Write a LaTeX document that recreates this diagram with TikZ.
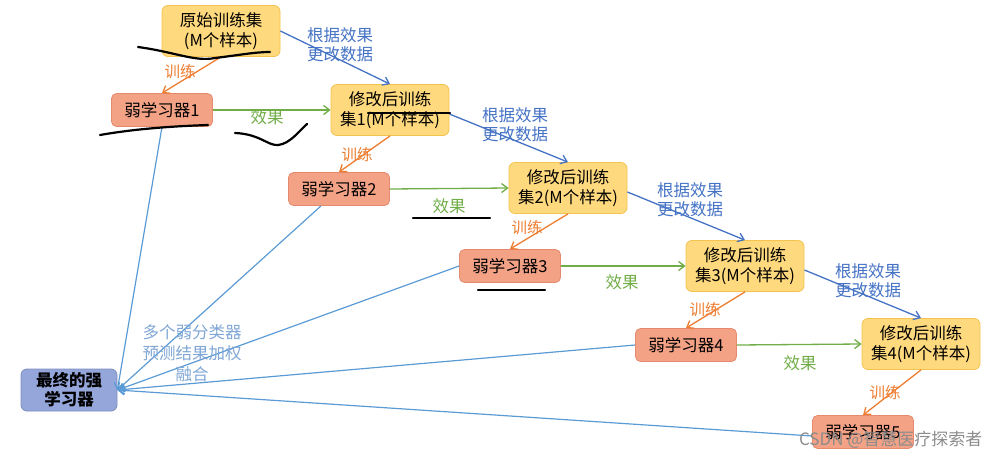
\documentclass[tikz,border=0pt]{standalone}
\usepackage{fontspec}
\setmainfont{Noto Sans CJK SC}
\usetikzlibrary{arrows.meta}
\begin{document}
\definecolor{setfill}{HTML}{FFD97E}
\definecolor{setdraw}{HTML}{F4C24F}
\definecolor{lrnfill}{HTML}{F3A286}
\definecolor{lrndraw}{HTML}{E58A6E}
\definecolor{finfill}{HTML}{95A6DB}
\definecolor{findraw}{HTML}{7E8FBF}
\definecolor{corange}{HTML}{ED7D31}
\definecolor{cgreen}{HTML}{70AD47}
\definecolor{cblue}{HTML}{4472C4}
\definecolor{clblue}{HTML}{5B9BD5}
\definecolor{ctxt}{HTML}{7FA6D5}
\tikzset{
  setbox/.style={draw=setdraw, fill=setfill, rounded corners=6pt, minimum width=118pt, minimum height=51pt, align=center, font=\fontsize{16.5}{20}\selectfont, inner sep=1pt, line width=0.8pt},
  lrnbox/.style={draw=lrndraw, fill=lrnfill, rounded corners=5pt, minimum width=101pt, minimum height=33pt, align=center, font=\fontsize{16.5}{20}\selectfont, inner sep=1pt, line width=0.8pt},
  finbox/.style={draw=findraw, fill=finfill, rounded corners=6pt, minimum width=96pt, minimum height=42pt, align=center, font=\bfseries\fontsize{16.5}{19}\selectfont, inner sep=1pt, line width=0.8pt},
  trainarr/.style={draw=corange, line width=1.3pt, -{Straight Barb[length=6pt,width=9pt]}},
  effarr/.style={draw=cgreen, line width=1.3pt, -{Straight Barb[length=6pt,width=9pt]}},
  modarr/.style={draw=cblue, line width=1.3pt, -{Straight Barb[length=6pt,width=9pt]}},
  finarr/.style={draw=clblue, line width=1.2pt, -{Straight Barb[length=6pt,width=9pt]}},
  trainlbl/.style={text=corange, font=\fontsize{15.5}{18}\selectfont},
  efflbl/.style={text=cgreen, font=\fontsize{16.5}{19}\selectfont},
  modlbl/.style={text=cblue, align=center, font=\fontsize{16.5}{19}\selectfont},
  fuselbl/.style={text=ctxt, align=center, font=\fontsize{16.5}{21}\selectfont},
  scribble/.style={draw=black, line width=2.2pt, line cap=round, line join=round},
}
\begin{tikzpicture}[x=1pt,y=-1pt]
\useasboundingbox (0,0) rectangle (999,458);
% nodes
\node[setbox] (s0) at (221,31) {原始训练集\\(M个样本)};
\node[setbox] (s1) at (390,110) {修改后训练\\集1(M个样本)};
\node[setbox] (s2) at (568,188) {修改后训练\\集2(M个样本)};
\node[setbox] (s3) at (745,266) {修改后训练\\集3(M个样本)};
\node[setbox] (s4) at (921,344) {修改后训练\\集4(M个样本)};
\node[lrnbox] (l1) at (162,110) {弱学习器1};
\node[lrnbox] (l2) at (339,189) {弱学习器2};
\node[lrnbox] (l3) at (510,266) {弱学习器3};
\node[lrnbox] (l4) at (686,345) {弱学习器4};
\node[lrnbox] (l5) at (863,432) {弱学习器5};
\node[finbox] (f) at (69,390) {最终的强\\学习器};
% training arrows
\draw[trainarr] (s0.south) -- (l1.north);
\draw[trainarr] (s1.south) -- (l2.north);
\draw[trainarr] (s2.south) -- (l3.north);
\draw[trainarr] (s3.south) -- (l4.north);
\draw[trainarr] (s4.south) -- (l5.north);
% effect arrows
\draw[effarr] (l1.east) -- (s1.west);
\draw[effarr] (l2.east) -- (s2.west);
\draw[effarr] (l3.east) -- (s3.west);
\draw[effarr] (l4.east) -- (s4.west);
% modify arrows
\draw[modarr] (s0.east) -- (s1.north);
\draw[modarr] ([yshift=-4pt]s1.east) -- (s2.north);
\draw[modarr] ([yshift=-4pt]s2.east) -- (s3.north);
\draw[modarr] ([yshift=-4pt]s3.east) -- (s4.north);
% to final
\draw[finarr] (l1.south) -- (f.east);
\draw[finarr] ([xshift=-18pt]l2.south) -- (f.east);
\draw[finarr] (l3.west) -- (f.east);
\draw[finarr] (l4.west) -- (f.east);
\draw[finarr] ([yshift=-4pt]l5.west) -- (f.east);
% labels
\node[trainlbl] (t1) at (180,72) {训练};
\node[trainlbl] (t2) at (357,155) {训练};
\node[trainlbl] (t3) at (527,228) {训练};
\node[trainlbl] (t4) at (705,310) {训练};
\node[trainlbl] (t5) at (885,393) {训练};
\node[efflbl] (e1) at (267,117) {效果};
\node[efflbl] (e2) at (449,206) {效果};
\node[efflbl] (e3) at (622,282) {效果};
\node[efflbl] (e4) at (800,363) {效果};
\node[modlbl] (m1) at (340,45) {根据效果\\更改数据};
\node[modlbl] (m2) at (515,125) {根据效果\\更改数据};
\node[modlbl] (m3) at (690,200) {根据效果\\更改数据};
\node[modlbl] (m4) at (868,281) {根据效果\\更改数据};
\node[fuselbl] (fz) at (192,353) {多个弱分类器\\预测结果加权\\融合};
% scribbles
\draw[scribble] (138,47) .. controls (175,52) and (195,62) .. (215,58) .. controls (240,55) and (255,52) .. (270,52);
\draw[scribble] (100,135) .. controls (140,128) and (180,126) .. (208,125);
\draw[scribble] (235,133) .. controls (260,134) and (268,146) .. (278,145) .. controls (290,144) and (300,130) .. (307,124);
\draw[scribble] (368,113) -- (450,113);
\draw[scribble] (413,218) -- (490,218);
\draw[scribble] (478,290) -- (545,290);
% watermark
\node[text=black!45, font=\fontsize{17}{20}\selectfont, anchor=east] (wm) at (986,440) {CSDN @智慧医疗探索者};
\end{tikzpicture}
\end{document}
